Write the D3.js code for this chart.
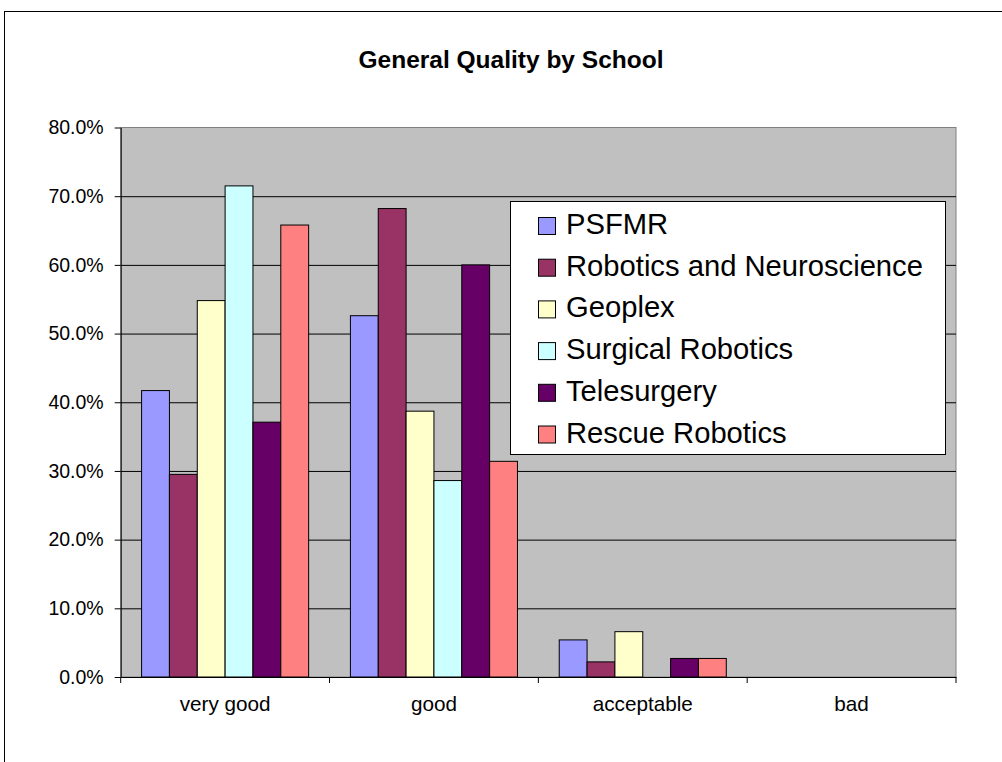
<!DOCTYPE html>
<html>
<head>
<meta charset="utf-8">
<script src="https://cdn.jsdelivr.net/npm/d3@7"></script>
<style>
  body { margin: 0; background: #fff; }
  text { font-family: "Liberation Sans", Arial, sans-serif; }
</style>
</head>
<body>
<script>
// data
var categories = ["very good", "good", "acceptable", "bad"];
var seriesNames = ["PSFMR", "Robotics and Neuroscience", "Geoplex", "Surgical Robotics", "Telesurgery", "Rescue Robotics"];
var seriesColors = ["#9999FF", "#993366", "#FFFFCC", "#CCFFFF", "#660066", "#FF8080"];

var psfmr       = [0.417, 0.526, 0.054, 0];
var roboNeuro   = [0.295, 0.682, 0.022, 0];
var geoplex     = [0.548, 0.387, 0.066, 0];
var surgical    = [0.715, 0.286, 0, 0];
var telesurgery = [0.371, 0.600, 0.027, 0];
var rescue      = [0.658, 0.314, 0.027, 0];

var yTicks = [0, 0.1, 0.2, 0.3, 0.4, 0.5, 0.6, 0.7, 0.8];

var seriesValues = [psfmr, roboNeuro, geoplex, surgical, telesurgery, rescue];
var rows = categories.map(function(c, i) {
    return {cat: c, values: seriesNames.map(function(s, j) {
        return {name: s, value: seriesValues[j][i], color: seriesColors[j]};
    })};
});

var svg = d3.select("body")
    .append("svg")
    .attr("width", 1002)
    .attr("height", 762)
    .style("display", "block");

// chart area border (runs off the picture on the right and bottom)
svg.append("rect")
    .attr("x", 4.5).attr("y", 11.5)
    .attr("width", 1200).attr("height", 900)
    .attr("fill", "#fff")
    .attr("stroke", "#000");

var plotL = 120.7, plotR = 956, plotT = 127.5, plotB = 677;

var x0 = d3.scaleBand().domain(categories).range([plotL, plotR]);
var x1 = d3.scaleBand().domain(seriesNames).range([0, x0.bandwidth()]).paddingOuter(0.75);
var y = d3.scaleLinear().domain([0, 0.8]).range([plotB, plotT]);

// plot area
svg.append("rect")
    .attr("x", plotL).attr("y", plotT)
    .attr("width", plotR - plotL).attr("height", plotB - plotT)
    .attr("fill", "#C0C0C0")
    .attr("stroke", "#808080");

// gridlines
svg.append("g")
    .attr("transform", "translate(" + plotL + ",0)")
    .call(d3.axisLeft(y).tickValues(yTicks.slice(1, -1)).tickSize(-(plotR - plotL)).tickFormat(""))
    .call(function(g) { g.select(".domain").remove(); })
    .selectAll("line").attr("stroke", "#000");

// bars
var groups = svg.append("g").selectAll("g")
    .data(rows)
    .enter().append("g")
    .attr("transform", function(d) { return "translate(" + x0(d.cat) + ",0)"; });

groups.selectAll("rect")
    .data(function(d) { return d.values.filter(function(v) { return v.value > 0; }); })
    .enter().append("rect")
    .attr("x", function(d) { return x1(d.name); })
    .attr("y", function(d) { return y(d.value); })
    .attr("width", x1.bandwidth())
    .attr("height", function(d) { return plotB - y(d.value); })
    .attr("fill", function(d) { return d.color; })
    .attr("stroke", "#000")
    .attr("stroke-width", 1);

// y axis
var yAxis = svg.append("g")
    .attr("transform", "translate(" + plotL + ",0)")
    .call(d3.axisLeft(y).tickValues(yTicks).tickSizeOuter(0).tickSizeInner(6).tickPadding(11).tickFormat(d3.format(".1%")));
yAxis.select(".domain").attr("stroke", "#000");
yAxis.selectAll("text").style("font-size", "19.5px").attr("fill", "#000");

// x axis: labels at category centres, ticks between categories
var xAxis = svg.append("g")
    .attr("transform", "translate(0," + plotB + ")")
    .call(d3.axisBottom(x0).tickSize(0).tickPadding(19));
xAxis.select(".domain").attr("stroke", "#000");
xAxis.selectAll("text").style("font-size", "20.7px").attr("fill", "#000");

var bounds = categories.map(function(c) { return x0(c); }).concat([plotR]);
svg.append("g").selectAll("line")
    .data(bounds)
    .enter().append("line")
    .attr("x1", function(d) { return d; })
    .attr("x2", function(d) { return d; })
    .attr("y1", plotB)
    .attr("y2", plotB + 6)
    .attr("stroke", "#000");

// title
svg.append("text")
    .attr("x", 511)
    .attr("y", 68)
    .attr("text-anchor", "middle")
    .style("font-size", "24.5px")
    .style("font-weight", "bold")
    .text("General Quality by School");

// legend
var legend = svg.append("g").attr("transform", "translate(510,201)");
legend.append("rect")
    .attr("x", 0.5).attr("y", 0.5)
    .attr("width", 435).attr("height", 253)
    .attr("fill", "#fff")
    .attr("stroke", "#000");

var item = legend.selectAll(".item")
    .data(seriesNames)
    .enter().append("g")
    .attr("class", "item")
    .attr("transform", function(d, i) { return "translate(0," + (33 + i * 41.7) + ")"; });

item.append("rect")
    .attr("x", 28.5).attr("y", -16.5)
    .attr("width", 17).attr("height", 17)
    .attr("fill", function(d, i) { return seriesColors[i]; })
    .attr("stroke", "#000");

item.append("text")
    .attr("x", 56)
    .attr("y", 0)
    .style("font-size", "29.2px")
    .text(function(d) { return d; });
</script>
</body>
</html>
